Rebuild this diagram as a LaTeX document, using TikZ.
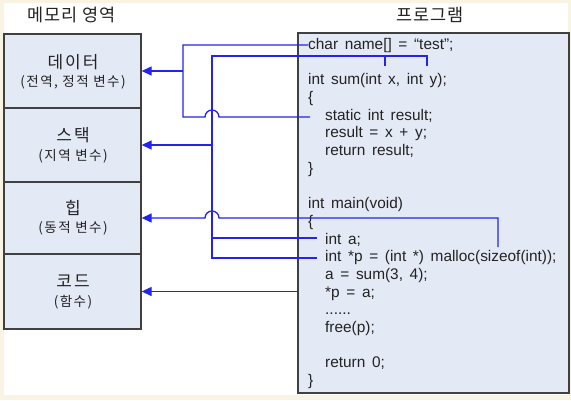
\documentclass[tikz,border=0pt]{standalone}
\usepackage{fontspec}
\setmainfont{Noto Sans CJK KR}
\newfontfamily\codefont[WordSpace=1.55]{Liberation Sans}
\newfontfamily\subfont[LetterSpace=11]{Noto Sans CJK KR}
\newfontfamily\bigfont[LetterSpace=12]{Noto Sans CJK KR}
\newfontfamily\ttlfont[LetterSpace=5]{Noto Sans CJK KR}
\usetikzlibrary{arrows.meta}
\definecolor{cream}{RGB}{248,243,226}
\definecolor{boxfill}{RGB}{228,233,246}
\definecolor{boxline}{RGB}{64,64,64}
\definecolor{linkblue}{RGB}{35,35,235}
\definecolor{txt}{RGB}{35,35,35}
\begin{document}
\begin{tikzpicture}[x=1pt,y=-1pt,
  mem/.style={draw=boxline, line width=1.3pt, fill=boxfill, minimum width=137pt, inner sep=0pt},
  ttl/.style={font=\ttlfont\fontsize{17.5}{20}\selectfont, text=txt, inner sep=0pt},
  big/.style={font=\bigfont\fontsize{17}{19}\selectfont, text=txt, inner sep=0pt},
  sub/.style={font=\subfont\fontsize{13.5}{15}\selectfont, text=txt, inner sep=0pt},
  code/.style={font=\codefont\fontsize{15.4}{18}\selectfont, text=txt, anchor=base west, inner sep=0pt},
  conn/.style={draw=linkblue, line width=1.3pt},
  arr/.style={conn, -{Triangle[length=10pt,width=9pt]}},
]
\useasboundingbox (0,0) rectangle (571,400);
\fill[cream] (0,0) rectangle (571,400);
\fill[white] (4,3) rectangle (568,395);

% titles
\node[ttl] (tmem) at (71.5,14.5) {메모리 영역};
\node[ttl] (tprog) at (430,14.5) {프로그램};

% memory boxes
\node[mem, minimum height=74pt] (d) at (72.5,71) {};
\node[mem, minimum height=74pt] (s) at (72.5,145) {};
\node[mem, minimum height=72pt] (h) at (72.5,218) {};
\node[mem, minimum height=75pt] (k) at (72.5,291.5) {};

\node[big] (dt) at (73,61.7) {데이터};
\node[sub] (ds) at (73,82) {(전역, 정적 변수)};
\node[big] (st) at (73,135) {스택};
\node[sub] (ss) at (73,156) {(지역 변수)};
\node[big] (ht) at (73,208) {힙};
\node[sub] (hs) at (73,228) {(동적 변수)};
\node[big] (kt) at (73,281.5) {코드};
\node[sub] (ks) at (73,302) {(함수)};

% program box
\node[draw=boxline, line width=1.3pt, fill=boxfill, minimum width=271pt, minimum height=360pt, inner sep=0pt] (p) at (433.5,213) {};

% connectors
\coordinate (charend) at (308,45);
\coordinate (statend) at (310,117);
\coordinate (dj) at (183,71);
\draw[conn] (charend) -- (183,45) -- (183,117) -- (205,117) arc[start angle=180,end angle=360,radius=7] -- (statend);
\draw[arr] (dj) -- (d.east);

\coordinate (xtick) at (385,66);
\coordinate (ytick) at (427,66);
\coordinate (aend) at (317,238);
\coordinate (pend) at (317,258);
\coordinate (sj) at (212,145);
\draw[conn] (xtick) -- (385,56);
\draw[conn] (ytick) -- (427,56) -- (212,56) -- (212,258) -- (pend);
\draw[conn] (212,238) -- (aend);
\draw[arr] (sj) -- (s.east);

\coordinate (mtick) at (498,247);
\draw[arr] (mtick) -- (498,218) -- (219,218) arc[start angle=0,end angle=-180,radius=7] -- (h.east);

\draw[arr] (k.east -| p.west) -- (k.east);

% code
\node[code] (l1) at (308,49.3) {char name[] = “test”;};
\node[code] (l2) at (308,84.7) {int sum(int x, int y);};
\node[code] (l3) at (308,102.4) {\{};
\node[code] (l4) at (325,120.1) {static int result;};
\node[code] (l5) at (325,137.8) {result = x + y;};
\node[code] (l6) at (325,155.5) {return result;};
\node[code] (l7) at (308,173.2) {\}};
\node[code] (l8) at (308,208.6) {int main(void)};
\node[code] (l9) at (308,226.3) {\{};
\node[code] (l10) at (325,244) {int a;};
\node[code] (l11) at (325,261.7) {int *p = (int *) malloc(sizeof(int));};
\node[code] (l12) at (325,279.4) {a = sum(3, 4);};
\node[code] (l13) at (325,297.1) {*p = a;};
\node[code] (l14) at (325,314.8) {......};
\node[code] (l15) at (325,332.5) {free(p);};
\node[code] (l16) at (325,367.9) {return 0;};
\node[code] (l17) at (308,385.6) {\}};
\end{tikzpicture}
\end{document}
